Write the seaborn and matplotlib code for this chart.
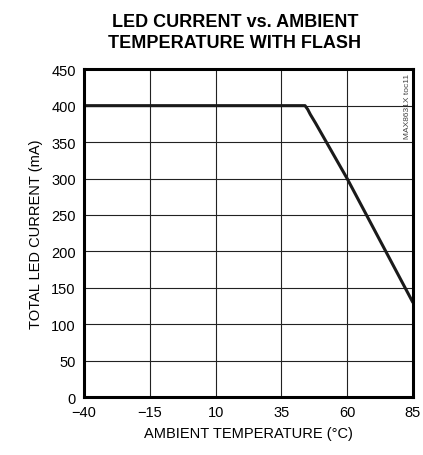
import matplotlib
matplotlib.use('Agg')
import matplotlib.pyplot as plt
import seaborn as sns
import pandas as pd

temp = [-40, 44, 45, 46, 48, 60, 85]
current = [400, 400, 395, 388, 376, 300, 130]
x_ticks = [-40, -15, 10, 35, 60, 85]
y_ticks = [0, 50, 100, 150, 200, 250, 300, 350, 400, 450]

sns.set_style('white')
plt.rcParams['font.family'] = ['Liberation Sans', 'DejaVu Sans']
plt.rcParams['text.color'] = 'black'
plt.rcParams['axes.labelcolor'] = 'black'
plt.rcParams['xtick.color'] = 'black'
plt.rcParams['ytick.color'] = 'black'

df = pd.DataFrame({'temp': temp, 'current': current})

fig = plt.figure(figsize=(4.23, 4.56), dpi=100)
ax = fig.add_axes([0.199, 0.127, 0.777, 0.719])

sns.lineplot(data=df, x='temp', y='current', ax=ax, color='#1a1a1a', linewidth=2.2)

ax.set_xlim(-40, 85)
ax.set_ylim(0, 450)
ax.set_xticks(x_ticks)
ax.set_yticks(y_ticks)
ax.set_xticklabels(['\u221240', '\u221215', '10', '35', '60', '85'])
ax.grid(True, color='#222222', linewidth=0.8)
ax.tick_params(axis='both', labelsize=10.5, length=0, pad=6)
for s in ax.spines.values():
    s.set_linewidth(2.2)
    s.set_color('black')

ax.set_xlabel('AMBIENT TEMPERATURE (\u00b0C)', fontsize=10.5, labelpad=5)
ax.set_ylabel('TOTAL LED CURRENT (mA)', fontsize=10.5, labelpad=6)
fig.text(0.555, 0.97, 'LED CURRENT vs. AMBIENT\nTEMPERATURE WITH FLASH',
         ha='center', va='top', fontsize=13, fontweight='bold', linespacing=1.3)
ax.text(0.985, 0.99, 'MAX8631X toc11', transform=ax.transAxes, rotation=90,
        ha='center', va='top', fontsize=6, color='#444444')

fig.savefig('out.png', dpi=100)
